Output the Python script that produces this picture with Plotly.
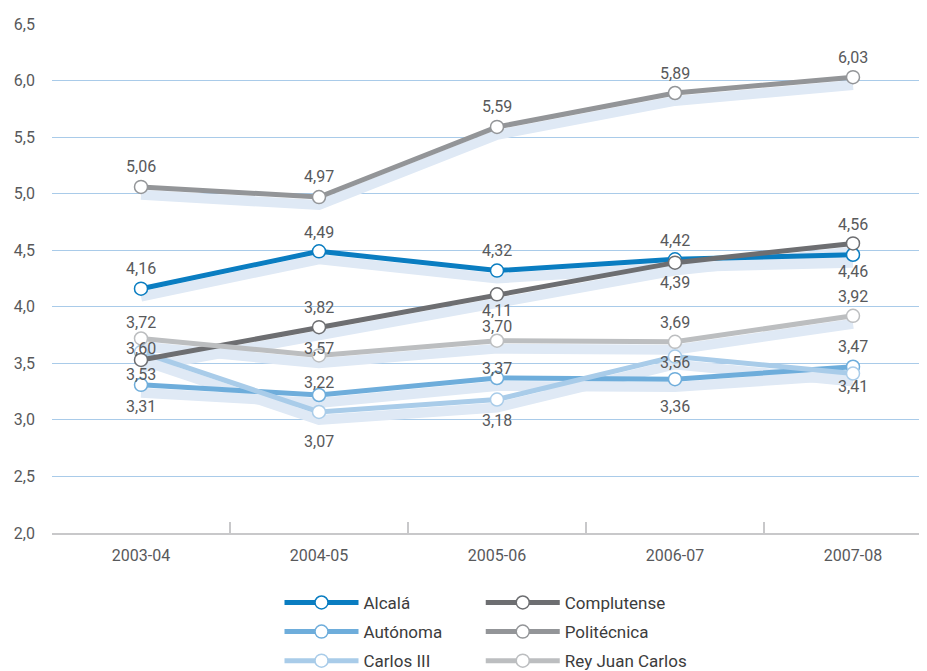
import plotly.graph_objects as go

years = ["2003-04", "2004-05", "2005-06", "2006-07", "2007-08"]

alcala = [4.16, 4.49, 4.32, 4.42, 4.46]
autonoma = [3.31, 3.22, 3.37, 3.36, 3.47]
carlos3 = [3.60, 3.07, 3.18, 3.56, 3.41]
complutense = [3.53, 3.82, 4.11, 4.39, 4.56]
politecnica = [5.06, 4.97, 5.59, 5.89, 6.03]
reyjuan = [3.72, 3.57, 3.70, 3.69, 3.92]

y_ticks = [2.0, 2.5, 3.0, 3.5, 4.0, 4.5, 5.0, 5.5, 6.0, 6.5]

series = [
    # name, values, color, legend, label pixel shifts
    ("Alcalá", alcala, "#0a7dc1", "legend", [20, 19, 20, 19, -17]),
    ("Autónoma", autonoma, "#6eaddb", "legend", [-22, 13, 10, -27, 20]),
    ("Carlos III", carlos3, "#a9cce9", "legend", [4, -30, -21, -6, -13]),
    ("Complutense", complutense, "#6d6e71", "legend2", [-15, 20, -16, -20, 19]),
    ("Politécnica", politecnica, "#939598", "legend2", [20, 21, 20, 20, 20]),
    ("Rey Juan Carlos", reyjuan, "#bcbec0", "legend2", [16, 7, 14, 19, 19]),
]

FONT = "Roboto, 'DejaVu Sans', sans-serif"
TEXT = "#58595b"
SHADOW = "#dfe9f5"
SHADOW_OFF = 0.07

fig = go.Figure()

# shadow lines beneath
for name, vals, color, leg, shifts in series:
    fig.add_trace(go.Scatter(
        x=years, y=[v - SHADOW_OFF for v in vals], mode="lines",
        line=dict(color=SHADOW, width=10), showlegend=False, hoverinfo="skip",
    ))

for i, (name, vals, color, leg, shifts) in enumerate(series):
    fig.add_trace(go.Scatter(
        x=years, y=vals, mode="lines+markers", name=name,
        line=dict(color=color, width=5),
        marker=dict(size=13, color="white", line=dict(color=color, width=1.5)),
        legend=leg, legendgroup=name,
    ))
    for x, v, s in zip(years, vals, shifts):
        fig.add_annotation(
            x=x, y=v, text=f"{v:.2f}".replace(".", ","), showarrow=False,
            yshift=s, font=dict(family=FONT, size=16, color=TEXT),
        )

legend_common = dict(
    orientation="v", yanchor="top", xanchor="left",
    font=dict(family=FONT, size=17, color="#3c3c3c"),
    itemwidth=74, tracegroupgap=4, bgcolor="rgba(0,0,0,0)",
)

fig.update_layout(
    width=919, height=663,
    margin=dict(l=44, r=0, t=16, b=138, autoexpand=False),
    paper_bgcolor="white", plot_bgcolor="white",
    separators=",.",
    font=dict(family=FONT, size=16, color=TEXT),
    legend=dict(x=0.26, y=-0.102, **legend_common),
    legend2=dict(x=0.49, y=-0.102, **legend_common),
    xaxis=dict(
        type="category", range=[-0.5, -0.5 + 875 / 178], automargin=False,
        showgrid=False, showline=True, linecolor="#c8c8ca", linewidth=1.5,
        ticks="inside", tickson="boundaries", ticklen=11, tickcolor="#c8c8ca",
        tickwidth=1.5, tickfont=dict(family=FONT, size=16, color=TEXT),
        ticklabelstandoff=7, fixedrange=True,
    ),
    yaxis=dict(
        range=[2.0, 6.5], tickvals=y_ticks, tickformat=".1f", automargin=False,
        showgrid=True, gridcolor="#a9cbe9", gridwidth=1,
        zeroline=False, showline=False, ticklabelstandoff=16,
        tickfont=dict(family=FONT, size=16, color=TEXT), fixedrange=True,
    ),
    hovermode=False,
)

fig.write_html("out.html")
